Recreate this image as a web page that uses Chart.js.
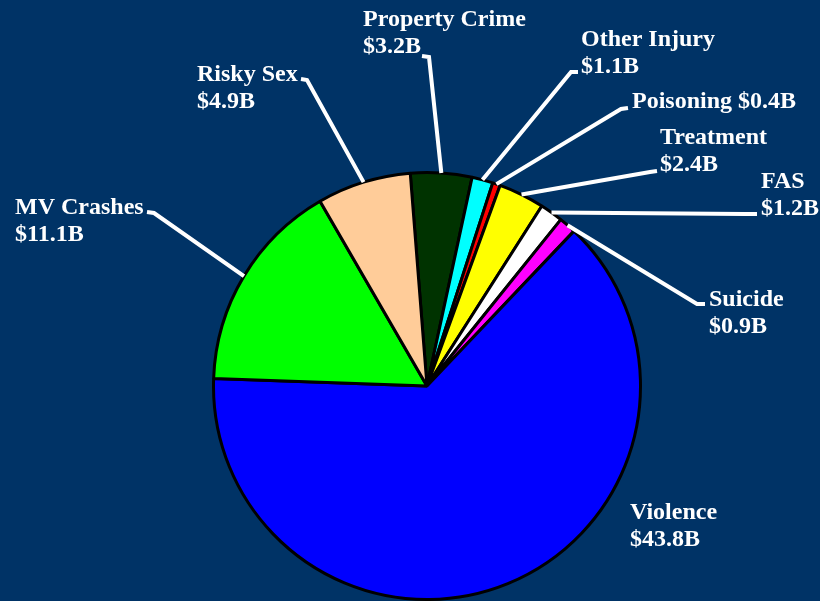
<!DOCTYPE html>
<html lang="en">
<head>
  <meta charset="UTF-8">
  <title>Costs pie</title>
  <script src="https://cdn.jsdelivr.net/npm/chart.js"></script>
  <style>
    html, body {
      margin: 0;
      padding: 0;
      background-color: #003366;
      overflow: hidden;
    }
    #costChart {
      display: block;
    }
  </style>
</head>
<body>
  <canvas id="costChart" width="820" height="601"></canvas>

  <script>
    // Data (billions of dollars), clockwise from the top
    const categories = ['Property Crime', 'Other Injury', 'Poisoning', 'Treatment', 'FAS', 'Suicide', 'Violence', 'MV Crashes', 'Risky Sex'];
    const costs = [3.2, 1.1, 0.4, 2.4, 1.2, 0.9, 43.8, 11.1, 4.9];
    const sliceColors = ['#003300', '#00ffff', '#ff0000', '#ffff00', '#ffffff', '#ff00ff', '#0000ff', '#00ff00', '#ffcc99'];

    // Where each label goes: text x, first baseline, and the leader elbow
    // (tx,ty = end next to the text, ex,ey = bend before heading to the slice)
    const labelLayout = [
      { x: 363, y: 26,  oneLine: false, tx: 422, ty: 56,  ex: 429, ey: 57 },
      { x: 581, y: 46,  oneLine: false, tx: 578, ty: 72,  ex: 571, ey: 72 },
      { x: 632, y: 108, oneLine: true,  tx: 628, ty: 108, ex: 621, ey: 109 },
      { x: 660, y: 144, oneLine: false, tx: 657, ty: 171, ex: 650, ey: 172 },
      { x: 761, y: 188, oneLine: false, tx: 757, ty: 214, ex: 745, ey: 214 },
      { x: 709, y: 306, oneLine: false, tx: 705, ty: 304, ex: 697, ey: 304 },
      { x: 630, y: 519, oneLine: false, tx: null },
      { x: 15,  y: 214, oneLine: false, tx: 147, ty: 212, ex: 154, ey: 213 },
      { x: 197, y: 81,  oneLine: false, tx: 301, ty: 79,  ex: 307, ey: 80 }
    ];

    const lineHeight = 27;

    // Labels and leader lines drawn on top of the pie
    const calloutPlugin = {
      id: 'callouts',
      afterDatasetsDraw(chart) {
        const ctx = chart.ctx;
        const arcs = chart.getDatasetMeta(0).data;
        ctx.save();
        ctx.strokeStyle = '#ffffff';
        ctx.lineWidth = 4;
        ctx.lineJoin = 'miter';
        ctx.fillStyle = '#ffffff';
        ctx.font = 'bold 24px "Liberation Serif", "Times New Roman", serif';
        ctx.textBaseline = 'alphabetic';

        arcs.forEach((arc, i) => {
          const lay = labelLayout[i];
          const value = '$' + costs[i].toFixed(1) + 'B';

          if (lay.tx !== null) {
            const props = arc.getProps(['x', 'y', 'startAngle', 'endAngle', 'outerRadius'], true);
            const mid = (props.startAngle + props.endAngle) / 2;
            const px = props.x + Math.cos(mid) * props.outerRadius;
            const py = props.y + Math.sin(mid) * props.outerRadius;
            ctx.beginPath();
            ctx.moveTo(lay.tx, lay.ty);
            ctx.lineTo(lay.ex, lay.ey);
            ctx.lineTo(px, py);
            ctx.stroke();
          }

          if (lay.oneLine) {
            ctx.fillText(categories[i] + ' ' + value, lay.x, lay.y);
          } else {
            ctx.fillText(categories[i], lay.x, lay.y);
            ctx.fillText(value, lay.x, lay.y + lineHeight);
          }
        });
        ctx.restore();
      }
    };

    new Chart(document.getElementById('costChart'), {
      type: 'pie',
      data: {
        labels: categories,
        datasets: [{
          data: costs,
          backgroundColor: sliceColors,
          borderColor: '#000000',
          borderWidth: 3
        }]
      },
      options: {
        responsive: false,
        animation: false,
        rotation: -4.5,
        layout: {
          padding: { left: 212, right: 178, top: 171, bottom: 0 }
        },
        plugins: {
          legend: { display: false },
          tooltip: { enabled: false }
        }
      },
      plugins: [calloutPlugin]
    });
  </script>
</body>
</html>
